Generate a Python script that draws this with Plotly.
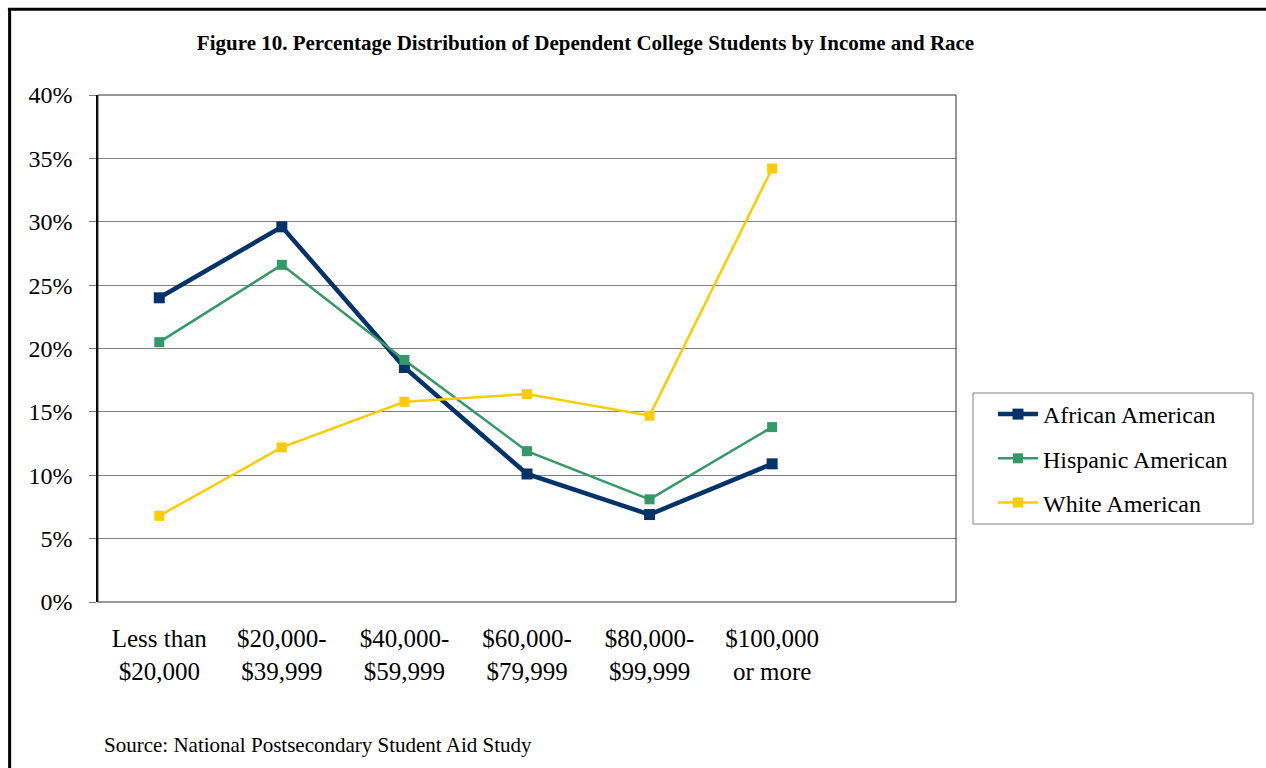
import plotly.graph_objects as go

categories = ["Less than<br>$20,000", "$20,000-<br>$39,999", "$40,000-<br>$59,999",
              "$60,000-<br>$79,999", "$80,000-<br>$99,999", "$100,000<br>or more"]
african = [24.0, 29.6, 18.5, 10.1, 6.9, 10.9]
hispanic = [20.5, 26.6, 19.1, 11.9, 8.1, 13.8]
white = [6.8, 12.2, 15.8, 16.4, 14.7, 34.2]
series_names = ["African American", "Hispanic American", "White American"]
y_ticks = [0, 5, 10, 15, 20, 25, 30, 35, 40]

FONT = "Liberation Serif, Times New Roman, serif"
idx = list(range(len(categories)))
n_slots = len(categories) + 1

fig = go.Figure()
styles = [
    (african, "#00336A", 4.5, 11),
    (hispanic, "#339966", 2.5, 10),
    (white, "#FFCC00", 2.5, 10),
]
for name, (vals, color, lw, ms) in zip(series_names, styles):
    fig.add_trace(go.Scatter(
        x=idx, y=[v / 100 for v in vals], name=name, mode="lines+markers",
        line=dict(color=color, width=lw),
        marker=dict(symbol="square", size=ms, color=color),
        legendgroup=name, xaxis="x2",
    ))

# plot-area border
fig.add_shape(type="rect", xref="paper", yref="paper", x0=0, x1=1, y0=0, y1=1,
              line=dict(color="#333333", width=1), layer="above")
# legend box border
fig.add_shape(type="rect", xref="paper", yref="paper", x0=1.0198, x1=1.3462, y0=0.1538, y1=0.4122,
              line=dict(color="#808080", width=1))
# frame around the page
fig.add_shape(type="line", xref="paper", yref="paper", x0=-0.105, x1=1.4, y0=1.169, y1=1.169,
              line=dict(color="black", width=3))
fig.add_shape(type="line", xref="paper", yref="paper", x0=-0.103, x1=-0.103, y0=1.169, y1=-0.4,
              line=dict(color="black", width=3))

fig.update_layout(
    width=1266, height=768,
    margin=dict(l=98, r=310, t=95, b=166),
    paper_bgcolor="white", plot_bgcolor="white",
    font=dict(family=FONT, color="black"),
    title=dict(text="<b>Figure 10. Percentage Distribution of Dependent College Students by Income and Race</b>",
               x=0.4625, xanchor="center", y=0.944, yanchor="middle",
               xref="container", yref="container",
               font=dict(size=21, family=FONT, color="black")),
    showlegend=True,
    legend=dict(x=1.0431, y=0.283, xanchor="left", yanchor="middle",
                borderwidth=0, bgcolor="rgba(0,0,0,0)",
                font=dict(size=24, family=FONT, color="black"),
                tracegroupgap=10, itemwidth=40),
    xaxis=dict(range=[-0.5, n_slots - 0.5], tickvals=[i - 0.5 for i in range(n_slots + 1)],
               ticktext=[""] * (n_slots + 1), ticks="outside", ticklen=6, tickcolor="#808080",
               showgrid=False, zeroline=False, showline=True, linecolor="black", linewidth=1.5),
    xaxis2=dict(range=[-0.5, n_slots - 0.5], overlaying="x", tickvals=idx, ticktext=categories,
                ticks="", showgrid=False, zeroline=False, showline=False,
                tickfont=dict(size=25, family=FONT, color="black"), side="bottom",
                ticklabelstandoff=19),
    yaxis=dict(range=[0, 0.40], tickvals=[t / 100 for t in y_ticks], tickformat=".0%",
               ticks="outside", ticklen=7, tickcolor="#808080",
               showgrid=True, gridcolor="#808080", gridwidth=1,
               zeroline=False, showline=True, linecolor="black", linewidth=1.5,
               ticklabelstandoff=12,
               tickfont=dict(size=24, family=FONT, color="black")),
    annotations=[dict(text="Source: National Postsecondary Student Aid Study",
                      xref="paper", yref="paper", x=0.005, y=-0.282, xanchor="left", yanchor="middle",
                      showarrow=False, font=dict(size=21, family=FONT, color="black"))],
)

fig.write_html("out.html")
